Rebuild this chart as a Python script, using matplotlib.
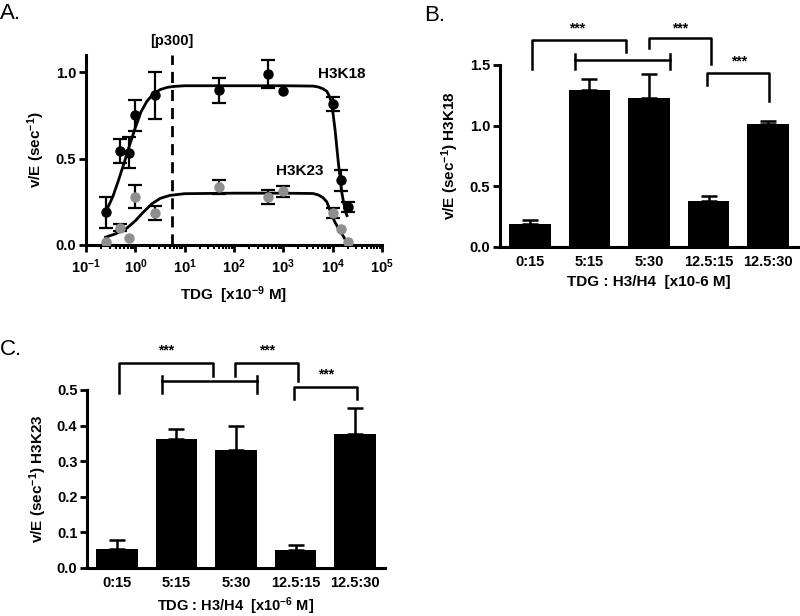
import numpy as np
import matplotlib
matplotlib.use('Agg')
import matplotlib.pyplot as plt

plt.rcParams['font.family'] = ['Liberation Sans', 'DejaVu Sans']
plt.rcParams['font.weight'] = 'bold'
plt.rcParams['axes.labelweight'] = 'bold'
plt.rcParams['mathtext.fontset'] = 'custom'
plt.rcParams['mathtext.rm'] = 'Liberation Sans:bold'
plt.rcParams['mathtext.it'] = 'Liberation Sans:bold'
plt.rcParams['mathtext.bf'] = 'Liberation Sans:bold'
plt.rcParams['mathtext.default'] = 'rm'

# ---- panel A data ----
tdg_nM = [0.25, 0.5, 0.75, 1.0, 2.5, 50, 500, 1000, 10000, 15000, 20000]
k18_y = [0.19, 0.545, 0.535, 0.75, 0.867, 0.895, 0.99, 0.89, 0.815, 0.375, 0.22]
k18_err = [0.09, 0.07, 0.09, 0.09, 0.135, 0.07, 0.08, 0.0, 0.04, 0.06, 0.03]
k23_y = [0.015, 0.10, 0.04, 0.28, 0.185, 0.335, 0.28, 0.31, 0.185, 0.09, 0.02]
k23_err = [0.0, 0.02, 0.0, 0.065, 0.04, 0.04, 0.04, 0.03, 0.03, 0.0, 0.0]

# fitted curves
k18_fit_x = [0.25, 0.35, 0.45, 0.6, 0.75, 1.0, 1.3, 1.7, 2.3, 3.2, 4.5, 6, 10, 100, 1000,
             4000, 5100, 6300, 7600, 8600, 9600, 11200, 13100, 15400, 17900, 19500]
k18_fit_y = [0.19, 0.28, 0.37, 0.48, 0.57, 0.68, 0.77, 0.83, 0.875, 0.90, 0.913, 0.918, 0.922, 0.922, 0.922,
             0.92, 0.915, 0.905, 0.89, 0.86, 0.82, 0.665, 0.47, 0.30, 0.20, 0.17]
k23_fit_x = [0.25, 0.4, 0.67, 1.0, 1.45, 2.2, 3.2, 5, 10, 100, 1000,
             4000, 5100, 6300, 7600, 9600, 11200, 13100, 16600, 19800]
k23_fit_y = [0.045, 0.065, 0.097, 0.14, 0.19, 0.24, 0.27, 0.287, 0.297, 0.30, 0.30,
             0.298, 0.29, 0.275, 0.25, 0.173, 0.13, 0.096, 0.048, 0.013]
p300_nM = 5.5

# ---- panels B / C data ----
ratios = ['0:15', '5:15', '5:30', '12.5:15', '12.5:30']
b_vals = [0.19, 1.296, 1.224, 0.38, 1.01]
b_err = [0.03, 0.085, 0.20, 0.035, 0.03]
c_vals = [0.053, 0.362, 0.331, 0.05, 0.375]
c_err = [0.025, 0.028, 0.068, 0.013, 0.074]

# significance brackets: (x_left, x_right, y_top, y_left_end, y_right_end)
b_brackets = [(0.03, 1.62, 1.71, 1.47, 1.61),
              (2.0, 3.04, 1.72, 1.64, 1.51),
              (2.975, 4.02, 1.434, 1.335, 1.204)]
b_bar_line = (0.755, 2.36, 1.542, 1.47, 1.59)
b_stars = [(0.8, 1.80), (2.52, 1.80), (3.51, 1.53)]

c_brackets = [(0.037, 1.62, 0.575, 0.4926, 0.54),
              (1.98, 3.035, 0.577, 0.54, 0.524),
              (2.97, 4.035, 0.508, 0.474, 0.474)]
c_bar_line = (0.753, 2.35, 0.524, 0.4926, 0.54)
c_stars = [(0.82, 0.61), (2.515, 0.61), (3.52, 0.543)]

fig = plt.figure(figsize=(8, 6.16), dpi=100)


def style_axes(ax):
    for s in ['top', 'right']:
        ax.spines[s].set_visible(False)
    for s in ['left', 'bottom']:
        ax.spines[s].set_linewidth(2.2)
    ax.tick_params(which='major', width=2, length=5, labelsize=10.5, pad=2)
    ax.tick_params(which='minor', width=1.5, length=3)


# ---------- A ----------
axA = fig.add_axes([0.1075, 0.6023, 0.37, 0.3084])
style_axes(axA)
x = np.array(tdg_nM)
e18 = np.array(k18_err)
e23 = np.array(k23_err)
axA.plot(k18_fit_x, k18_fit_y, color='black', lw=2)
axA.plot(k23_fit_x, k23_fit_y, color='black', lw=2)
m = e18 > 0
axA.errorbar(x[m], np.array(k18_y)[m], yerr=e18[m], fmt='none', ecolor='black',
             elinewidth=1.6, capsize=5, capthick=1.6)
m = e23 > 0
axA.errorbar(x[m], np.array(k23_y)[m], yerr=e23[m], fmt='none', ecolor='black',
             elinewidth=1.6, capsize=5, capthick=1.6)
axA.plot(x, k18_y, 'o', color='black', ms=6.5, zorder=4)
axA.plot(x, k23_y, 'o', color='#8e8e8e', ms=6.5, zorder=4)
axA.axvline(p300_nM, color='black', lw=2, ls=(0, (4, 2.5)), ymax=1.0)
axA.set_xscale('log')
axA.set_xlim(0.1, 1e5)
axA.set_ylim(0, 1.1)
axA.set_yticks([0.0, 0.5, 1.0])
axA.set_yticklabels(['0.0', '0.5', '1.0'])
axA.set_xticks([1e-1, 1e0, 1e1, 1e2, 1e3, 1e4, 1e5])
axA.tick_params(axis='x', which='major', pad=4)
axA.set_ylabel('v/E (sec$^{-1}$)', fontsize=11, labelpad=6)
axA.set_xlabel('TDG  [x10$^{-9}$ M]', fontsize=11, labelpad=6)
axA.text(p300_nM, 1.18, '[p300]', ha='center', va='center', fontsize=10.5)
axA.text(1.5e4, 0.99, 'H3K18', ha='center', va='center', fontsize=11)
axA.text(2.2e3, 0.43, 'H3K23', ha='center', va='center', fontsize=11)
fig.text(0.0, 0.978, 'A.', fontsize=16, fontweight='normal', va='center')


def bar_panel(ax, vals, err, brackets, bar_line, stars, ymax, yticks, ylabel, xlabel):
    style_axes(ax)
    pos = np.arange(len(ratios))
    ax.bar(pos, vals, width=0.7, color='black', zorder=2)
    ax.errorbar(pos, vals, yerr=[np.zeros(len(vals)), err], fmt='none', ecolor='black',
                elinewidth=1.8, capsize=5.5, capthick=1.8, zorder=1)
    ax.set_xlim(-0.5, 4.5)
    ax.set_ylim(0, ymax)
    ax.set_yticks(yticks)
    ax.set_xticks(pos)
    ax.set_xticklabels(ratios)
    ax.tick_params(axis='x', length=0, pad=6)
    ax.set_ylabel(ylabel, fontsize=11, labelpad=6)
    ax.set_xlabel(xlabel, fontsize=11, labelpad=4)
    for xl, xr, yt, yl, yr in brackets:
        ax.plot([xl, xl, xr, xr], [yl, yt, yt, yr], color='black', lw=1.8, clip_on=False)
    xl, xr, yh, y0, y1 = bar_line
    ax.plot([xl, xr], [yh, yh], color='black', lw=1.8, clip_on=False)
    ax.plot([xl, xl], [y0, y1], color='black', lw=1.8, clip_on=False)
    ax.plot([xr, xr], [y0, y1], color='black', lw=1.8, clip_on=False)
    for sx, sy in stars:
        ax.text(sx, sy, '***', ha='center', va='center', fontsize=10, clip_on=False)


# ---------- B ----------
axB = fig.add_axes([0.625, 0.5995, 0.3725, 0.295])
bar_panel(axB, b_vals, b_err, b_brackets, b_bar_line, b_stars, 1.5,
          [0.0, 0.5, 1.0, 1.5], 'v/E (sec$^{-1}$) H3K18', 'TDG : H3/H4  [x10-6 M]')
axB.set_yticklabels(['0.0', '0.5', '1.0', '1.5'])
fig.text(0.53, 0.975, 'B.', fontsize=16, fontweight='normal', va='center')

# ---------- C ----------
axC = fig.add_axes([0.109, 0.0784, 0.372, 0.2885])
bar_panel(axC, c_vals, c_err, c_brackets, c_bar_line, c_stars, 0.5,
          [0.0, 0.1, 0.2, 0.3, 0.4, 0.5], 'v/E (sec$^{-1}$) H3K23', 'TDG : H3/H4  [x10$^{-6}$ M]')
axC.set_yticklabels(['0.0', '0.1', '0.2', '0.3', '0.4', '0.5'])
axC.xaxis.label.set_fontsize(10.5)
fig.text(0.0, 0.432, 'C.', fontsize=16, fontweight='normal', va='center')

fig.savefig('out.png', dpi=100)
